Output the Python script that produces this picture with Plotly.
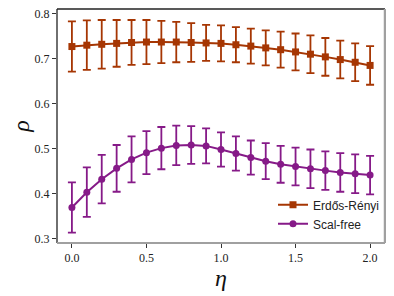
import plotly.graph_objects as go

eta = [round(0.1 * i, 1) for i in range(21)]

er_name = "Erdős-Rényi"
er_vals = [0.727, 0.730, 0.732, 0.734, 0.736, 0.737, 0.737, 0.737, 0.736, 0.735, 0.734,
           0.731, 0.728, 0.724, 0.720, 0.715, 0.710, 0.704, 0.698, 0.692, 0.685]
er_err = [0.056, 0.055, 0.054, 0.052, 0.050, 0.049, 0.047, 0.045, 0.043, 0.040, 0.040,
          0.039, 0.039, 0.039, 0.040, 0.041, 0.042, 0.042, 0.042, 0.042, 0.043]

sf_name = "Scal-free"
sf_vals = [0.369, 0.403, 0.432, 0.456, 0.476, 0.491, 0.501, 0.507, 0.508, 0.506, 0.498,
           0.489, 0.480, 0.472, 0.465, 0.460, 0.455, 0.451, 0.447, 0.444, 0.441]
sf_err = [0.056, 0.055, 0.054, 0.052, 0.051, 0.048, 0.047, 0.044, 0.042, 0.039, 0.038,
          0.038, 0.038, 0.040, 0.041, 0.042, 0.043, 0.043, 0.043, 0.043, 0.043]

x_ticks = [0.0, 0.5, 1.0, 1.5, 2.0]
y_ticks = [0.3, 0.4, 0.5, 0.6, 0.7, 0.8]

er_color = "#a63603"
sf_color = "#861a88"

fig = go.Figure()
fig.add_trace(go.Scatter(
    x=eta, y=er_vals, name=er_name, mode="lines+markers",
    line=dict(color=er_color, width=2),
    marker=dict(symbol="square", size=7, color=er_color),
    error_y=dict(type="data", array=er_err, color=er_color, thickness=1.8, width=4),
))
fig.add_trace(go.Scatter(
    x=eta, y=sf_vals, name=sf_name, mode="lines+markers",
    line=dict(color=sf_color, width=2),
    marker=dict(symbol="circle", size=7, color=sf_color),
    error_y=dict(type="data", array=sf_err, color=sf_color, thickness=1.8, width=4),
))

serif = "Liberation Serif"
axis_common = dict(showgrid=False, zeroline=False, ticks="outside", ticklen=4,
                   tickwidth=1, tickcolor="#333", showline=False, automargin=False,
                   ticklabeloverflow="allow",
                   tickfont=dict(family=serif, size=12, color="#222"))

fig.update_layout(
    width=386, height=288,
    margin=dict(l=49, r=9, t=1, b=53),
    paper_bgcolor="white", plot_bgcolor="white",
    xaxis=dict(range=[-0.1, 2.1], tickvals=x_ticks,
               ticktext=[f"{v:.1f}" for v in x_ticks],
               title=dict(text="<i>η</i>", font=dict(family=serif, size=24, color="#111"),
                          standoff=2),
               **axis_common),
    yaxis=dict(range=[0.290, 0.8105], tickvals=y_ticks,
               ticktext=[f"{v:.1f}" for v in y_ticks],
               title=dict(text="<i>ρ</i>", font=dict(family=serif, size=24, color="#111"),
                          standoff=8),
               **axis_common),
    legend=dict(x=1.0, y=0.02, xanchor="right", yanchor="bottom",
                bgcolor="rgba(255,255,255,0)", borderwidth=0,
                font=dict(family="Liberation Sans", size=12, color="#222"),
                tracegroupgap=0, itemwidth=30),
    showlegend=True,
)

# frame: dark left/top, grey right/bottom
fig.add_shape(type="line", xref="paper", yref="paper", x0=0, x1=0, y0=0, y1=1,
              line=dict(color="#222", width=1.3))
fig.add_shape(type="line", xref="paper", yref="paper", x0=0, x1=1, y0=1, y1=1,
              line=dict(color="#222", width=1.3))
fig.add_shape(type="line", xref="paper", yref="paper", x0=1, x1=1, y0=0, y1=1,
              line=dict(color="#a0a0a0", width=2.5))
fig.add_shape(type="line", xref="paper", yref="paper", x0=0, x1=1, y0=0, y1=0,
              line=dict(color="#a0a0a0", width=2))

fig.write_html("out.html")
